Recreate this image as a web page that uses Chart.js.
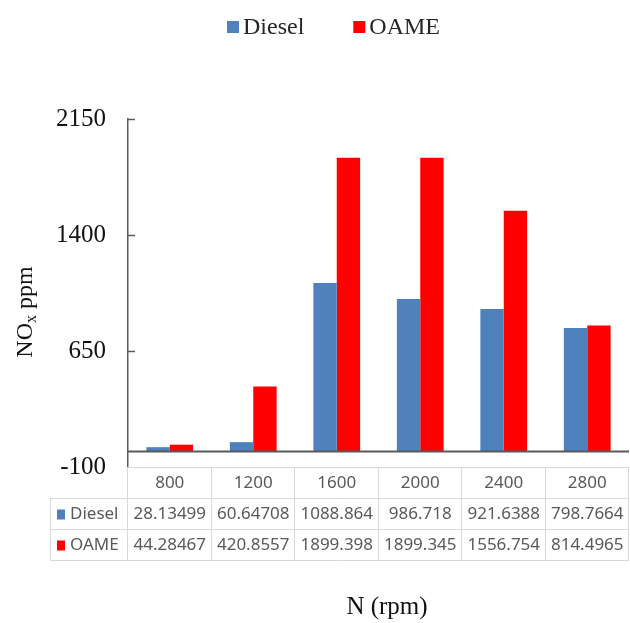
<!DOCTYPE html>
<html>
<head>
<meta charset="utf-8">
<script src="https://cdn.jsdelivr.net/npm/chart.js@4"></script>
<style>
  html, body { margin: 0; padding: 0; background: #fff; }
  #wrap { width: 630px; height: 623px; position: relative; }
</style>
</head>
<body>
<div id="wrap"><canvas id="noxChart"></canvas></div>
<script>
// engine speed categories and NOx emissions (ppm)
const speeds = ['800', '1200', '1600', '2000', '2400', '2800'];
const dieselNox = [28.13499, 60.64708, 1088.864, 986.718, 921.6388, 798.7664];
const oameNox = [44.28467, 420.8557, 1899.398, 1899.345, 1556.754, 814.4965];
const yTicks = [-100, 650, 1400, 2150];

const serif = "'Liberation Serif', 'Times New Roman', serif";
const sans = "'Noto Sans', 'Open Sans', sans-serif";
const axisColor = '#595959';
const tableLine = '#d9d9d9';

// legend, axis titles, inward ticks, zero line and the data table under the plot
const decorations = {
    id: 'decorations',
    afterDraw(chart) {
        const ctx = chart.ctx;
        const area = chart.chartArea;
        const x = chart.scales.x;
        const y = chart.scales.y;
        const sets = chart.data.datasets;
        ctx.save();

        // legend at the top
        ctx.font = '24px ' + serif;
        ctx.textBaseline = 'middle';
        ctx.textAlign = 'left';
        let lx = 227;
        sets.forEach(ds => {
            ctx.fillStyle = ds.backgroundColor;
            ctx.fillRect(lx, 21, 12, 12);
            ctx.fillStyle = '#262626';
            ctx.fillText(ds.label, lx + 16, 28);
            lx += 16 + ctx.measureText(ds.label).width + 49;
        });

        // inward tick marks on the value axis
        ctx.strokeStyle = axisColor;
        ctx.lineWidth = 1.5;
        yTicks.slice(1).forEach(v => {
            const py = Math.round(y.getPixelForValue(v)) + 0.5;
            ctx.beginPath();
            ctx.moveTo(area.left, py);
            ctx.lineTo(area.left + 7, py);
            ctx.stroke();
        });

        // category axis crosses at zero
        const zy = y.getPixelForValue(0);
        ctx.lineWidth = 2;
        ctx.beginPath();
        ctx.moveTo(area.left, zy);
        ctx.lineTo(area.right, zy);
        ctx.stroke();

        // data table
        const colW = (area.right - area.left) / speeds.length;
        const rowH = 31;
        const top = area.bottom;
        const keyLeft = 50;
        ctx.strokeStyle = tableLine;
        ctx.lineWidth = 1;
        ctx.beginPath();
        ctx.moveTo(area.left, top + 0.5);
        ctx.lineTo(area.right, top + 0.5);
        for (let r = 1; r <= 3; r++) {
            const py = Math.round(top + r * rowH) + 0.5;
            ctx.moveTo(keyLeft, py);
            ctx.lineTo(area.right, py);
        }
        for (let c = 0; c <= speeds.length; c++) {
            const px = Math.round(area.left + c * colW) - 0.5;
            ctx.moveTo(px, top);
            ctx.lineTo(px, top + 3 * rowH);
        }
        ctx.moveTo(keyLeft + 0.5, top + rowH);
        ctx.lineTo(keyLeft + 0.5, top + 3 * rowH);
        ctx.stroke();

        ctx.font = '17px ' + sans;
        ctx.fillStyle = axisColor;
        ctx.textAlign = 'center';
        speeds.forEach((s, i) => {
            ctx.fillText(s, x.getPixelForValue(i), top + rowH / 2 + 1);
        });
        sets.forEach((ds, r) => {
            const cy = top + (r + 1.5) * rowH + 1;
            ctx.fillStyle = ds.backgroundColor;
            ctx.fillRect(keyLeft + 7, cy - 5, 8, 10);
            ctx.fillStyle = axisColor;
            ctx.textAlign = 'left';
            ctx.fillText(ds.label, keyLeft + 20, cy);
            ctx.textAlign = 'center';
            ds.data.forEach((v, i) => {
                ctx.fillText(String(v), x.getPixelForValue(i), cy);
            });
        });

        // axis titles
        ctx.fillStyle = '#111';
        ctx.font = '25px ' + serif;
        ctx.textAlign = 'center';
        ctx.fillText('N (rpm)', 387, 607);

        ctx.translate(26, 312);
        ctx.rotate(-Math.PI / 2);
        ctx.textAlign = 'left';
        ctx.font = '24px ' + serif;
        const wNO = ctx.measureText('NO').width;
        const wPpm = ctx.measureText(' ppm').width;
        ctx.font = '16px ' + serif;
        const wSub = ctx.measureText('x').width;
        let tx = -(wNO + wSub + wPpm) / 2;
        ctx.font = '24px ' + serif;
        ctx.fillText('NO', tx, 0);
        tx += wNO;
        ctx.font = '16px ' + serif;
        ctx.fillText('x', tx, 6);
        tx += wSub;
        ctx.font = '24px ' + serif;
        ctx.fillText(' ppm', tx, 0);
        ctx.restore();
    }
};

new Chart(document.getElementById('noxChart'), {
    type: 'bar',
    data: {
        labels: speeds,
        datasets: [{
            label: 'Diesel',
            data: dieselNox,
            backgroundColor: '#4f81bd'
        }, {
            label: 'OAME',
            data: oameNox,
            backgroundColor: '#ff0000'
        }]
    },
    options: {
        responsive: true,
        maintainAspectRatio: false,
        animation: false,
        layout: {
            padding: { top: 119, right: 1, bottom: 156, left: 35 }
        },
        datasets: {
            bar: { categoryPercentage: 0.56, barPercentage: 1.0 }
        },
        plugins: {
            legend: { display: false },
            tooltip: { enabled: false }
        },
        scales: {
            x: {
                display: false
            },
            y: {
                min: -100,
                max: 2150,
                afterFit(scale) { scale.width = 93; },
                afterBuildTicks(scale) {
                    scale.ticks = yTicks.map(v => ({ value: v }));
                },
                grid: { display: false, drawTicks: false },
                border: { display: true, color: axisColor, width: 1.5 },
                ticks: {
                    padding: 22,
                    color: '#111',
                    font: { family: serif, size: 25 },
                    callback: v => String(v)
                }
            }
        }
    },
    plugins: [decorations]
});
</script>
</body>
</html>
